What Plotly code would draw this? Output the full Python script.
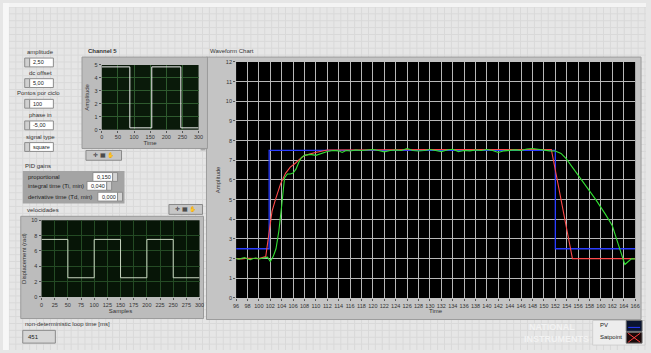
import plotly.graph_objects as go

W, H = 651, 353

# ---------------- data ----------------
pv_time = [96, 101.8, 101.8, 152.0, 152.0, 166]
pv_value = [2.5, 2.5, 7.5, 7.5, 2.5, 2.5]

sp_time = [96, 97, 98, 99, 100, 101.2, 101.8, 102.3, 102.9, 103.8, 104.7, 105.5, 106.4, 107.3,
           108.1, 109.9, 112, 120, 130, 140, 151.3, 155.0, 160, 166]
sp_value = [2.0, 1.98, 2.02, 2.0, 2.0, 2.1, 3.4, 4.4, 5.0, 5.8, 6.35, 6.65, 6.85, 7.1,
            7.25, 7.4, 7.52, 7.55, 7.55, 7.55, 7.55, 2.0, 2.0, 2.0]

fb_time = [96, 96.5, 97, 97.5, 98, 98.5, 99, 99.5, 100, 100.5, 101, 101.5, 102, 102.5, 103,
           103.5, 104, 104.5, 105, 105.5, 106, 106.5, 107, 107.5, 108, 109, 110, 111, 112,
           113, 114, 114.6, 115.3, 116, 117, 118, 119, 120, 121, 122, 123, 124, 125, 126,
           127, 128, 129, 130, 131, 132, 133, 134, 135, 136, 137, 138, 139, 140, 141, 142,
           143, 144, 145, 146, 147, 148, 149, 150, 151, 152, 153, 153.9, 155.6, 157.4,
           159.1, 160.8, 162.0, 163.1, 164.2, 164.8, 165.4, 166]
fb_value = [2.0, 1.97, 2.02, 2.05, 1.98, 1.95, 2.0, 2.03, 1.98, 2.02, 2.05, 2.07, 1.85, 2.1,
            2.5, 3.4, 4.7, 6.1, 6.3, 6.3, 6.35, 6.55, 6.9, 7.15, 7.25, 7.3, 7.25, 7.35, 7.45,
            7.5, 7.48, 7.4, 7.5, 7.47, 7.52, 7.5, 7.53, 7.55, 7.5, 7.43, 7.5, 7.52, 7.5, 7.6,
            7.5, 7.47, 7.5, 7.55, 7.5, 7.44, 7.52, 7.56, 7.44, 7.5, 7.48, 7.52, 7.5, 7.55,
            7.5, 7.4, 7.48, 7.5, 7.53, 7.5, 7.57, 7.6, 7.55, 7.5, 7.48, 7.47, 7.35, 7.08,
            6.42, 5.67, 5.0, 4.25, 3.67, 2.67, 1.7, 1.85, 2.0, 1.98]

ch5_time = [0, 87, 87, 155, 155, 245, 245, 300]
ch5_value = [4.85, 4.85, 0.15, 0.15, 4.85, 4.85, 0.15, 0.15]

vel_samples = [0, 50, 50, 100, 100, 150, 150, 200, 200, 250, 250, 300]
vel_value = [7.5, 7.5, 2.5, 2.5, 7.5, 7.5, 2.5, 2.5, 7.5, 7.5, 2.5, 2.5]

main_xticks = list(range(96, 167, 2))
main_yticks = list(range(0, 13))
ch5_xticks = list(range(0, 301, 50))
ch5_yticks = list(range(0, 6))
vel_xticks = list(range(0, 301, 25))
vel_yticks = list(range(0, 11, 2))

controls = [("amplitude", "2,50"), ("dc offset", "5,00"), ("Pontos por ciclo", "100"),
            ("phase in", "-5,00"), ("signal type", "square")]
pid_labels = ["proportional", "integral time (Ti, min)", "derivative time (Td, min)"]
pid_values = ["0,150", "0,040", "0,000"]
loop_time = "451"

# ---------------- helpers ----------------
FONT = "Liberation Sans"


def X(p):
    return p / W


def Y(p):
    return 1 - p / H


shapes = []
annotations = []


def rect(x0, y0, x1, y1, fill, line=None, lw=1):
    shapes.append(dict(type="rect", xref="paper", yref="paper", x0=X(x0), x1=X(x1),
                       y0=Y(y1), y1=Y(y0), fillcolor=fill,
                       line=dict(color=line or fill, width=lw if line else 0), layer="below"))


def text(x, y, s, size=6, color="#333333", anchor="left", angle=0):
    annotations.append(dict(x=X(x), y=Y(y), xref="paper", yref="paper", text=s, showarrow=False,
                            xanchor=anchor, yanchor="middle", textangle=angle,
                            font=dict(family=FONT, size=size, color=color)))


# page background with a fine grid
rect(0, 0, W, H, "#e6e6e6")
for gx in range(6, W, 7):
    shapes.append(dict(type="line", xref="paper", yref="paper", x0=X(gx), x1=X(gx), y0=0, y1=Y(4),
                       line=dict(color="#d9d9d9", width=1), layer="below"))
for gy in range(4, H, 7):
    shapes.append(dict(type="line", xref="paper", yref="paper", x0=X(6), x1=1, y0=Y(gy), y1=Y(gy),
                       line=dict(color="#d9d9d9", width=1), layer="below"))
rect(0, 0, W, 4, "#f4f4f4")
rect(0, 0, 6, H, "#f7f7f7")

# main chart frame
rect(206, 55, 646, 322, "#c4c4c4", "#9c9c9c")
rect(200, 55, 205, 150, "#a8a8a8")
rect(236, 60, 640, 300, "#000000")
text(208, 49, "Waveform Chart", 6)

# channel 5 frame
rect(80, 55, 207, 148, "#bcbcbc", "#9a9a9a")
rect(100, 63, 198, 129, "#0a1a0a")
text(84, 49, "<b>Channel 5</b>", 6)
rect(84, 150, 120, 160, "#c6c6c6", "#8a8a8a")
text(102, 155, "✛ ▦ ✋", 5.5, "#222222", "center")

# velocidades frame
rect(18, 217, 203, 321, "#bcbcbc", "#9a9a9a")
rect(39, 221, 199, 299, "#071507")
text(22, 211, "velocidades", 6)
rect(168, 205, 202, 215, "#c6c6c6", "#8a8a8a")
text(185, 210, "✛ ▦ ✋", 5.5, "#222222", "center")

# left controls
ctrl_y = [50, 71, 92, 114, 136]
for (lab, val), cy in zip(controls, ctrl_y):
    text(38 if lab != "Pontos por ciclo" else 36, cy, lab, 6, "#333333", "center")
    rect(22, cy + 6, 27, cy + 15, "#d0d0d0", "#8c8c8c")
    rect(27, cy + 6, 51, cy + 15, "#ffffff", "#8c8c8c")
    text(28.5, cy + 10.5, val, 5.5, "#222222")

# PID gains
text(20, 166, "PID gains", 6)
rect(20, 171, 123, 204, "#a4a4a4")
pid_y = [177, 186, 197]
pid_box = [(91, 111), (85, 105), (96, 116)]
for lab, val, yy, (bx0, bx1) in zip(pid_labels, pid_values, pid_y, pid_box):
    text(23, yy, lab, 6, "#222222")
    rect(bx0, yy - 4.5, bx1, yy + 4.5, "#ffffff", "#8c8c8c")
    rect(bx1, yy - 4.5, bx1 + 5, yy + 4.5, "#d4d4d4", "#8c8c8c")
    text(bx0 + 2, yy, val, 5.5, "#222222")

# loop time
text(20, 327, "non-deterministic loop time [ms]", 6)
rect(20, 333, 53, 346, "#d6d6d6", "#8a8a8a")
text(23, 339.5, loop_time, 6, "#222222")

# watermark
text(556, 330, "<b>NATIONAL</b>", 9, "#f2f2f2", "center")
text(560, 342, "<b>INSTRUMENTS</b>", 9, "#f2f2f2", "center")

# legend
rect(597, 323, 650, 348, "#ededed", "#cfcfcf")
text(602, 328, "PV", 6, "#222222")
text(602, 340, "Satpoint", 6, "#222222")
rect(631, 323, 647, 334, "#0a1430", "#6a6a6a")
shapes.append(dict(type="line", xref="paper", yref="paper", x0=X(633), x1=X(645), y0=Y(330), y1=Y(330),
                   line=dict(color="#2a3cff", width=1), layer="above"))
rect(631, 335, 647, 346, "#1a0808", "#6a6a6a")
shapes.append(dict(type="line", xref="paper", yref="paper", x0=X(633), x1=X(645), y0=Y(336), y1=Y(345),
                   line=dict(color="#ff4040", width=1), layer="above"))
shapes.append(dict(type="line", xref="paper", yref="paper", x0=X(633), x1=X(645), y0=Y(345), y1=Y(336),
                   line=dict(color="#ff4040", width=1), layer="above"))

# ---------------- figure ----------------
fig = go.Figure()
fig.add_trace(go.Scatter(x=pv_time, y=pv_value, mode="lines", name="PV",
                         line=dict(color="#2a3cff", width=1.3), xaxis="x", yaxis="y"))
fig.add_trace(go.Scatter(x=sp_time, y=sp_value, mode="lines", name="Satpoint",
                         line=dict(color="#ff4a4a", width=1.1), xaxis="x", yaxis="y"))
fig.add_trace(go.Scatter(x=fb_time, y=fb_value, mode="lines", name="Feedback",
                         line=dict(color="#33e033", width=1.1), xaxis="x", yaxis="y"))
fig.add_trace(go.Scatter(x=ch5_time, y=ch5_value, mode="lines", name="Channel 5",
                         line=dict(color="#f0f0f0", width=1), xaxis="x2", yaxis="y2"))
fig.add_trace(go.Scatter(x=vel_samples, y=vel_value, mode="lines", name="velocidades",
                         line=dict(color="#c8d4c0", width=1), xaxis="x3", yaxis="y3"))

tickfont = dict(family=FONT, size=5.5, color="#333333")
titlefont = dict(family=FONT, size=6, color="#333333")


def ax(domain, rng, ticks, title, grid, standoff, anchor):
    return dict(domain=domain, range=rng, tickmode="array", tickvals=ticks, ticks="outside",
                ticklen=2, tickcolor="#555555", tickfont=tickfont, showgrid=True, tickangle=0,
                gridcolor=grid, gridwidth=1, zeroline=False, showline=False, fixedrange=True,
                title=dict(text=title, font=titlefont, standoff=standoff), anchor=anchor)


fig.update_layout(
    width=W, height=H, margin=dict(l=0, r=0, t=0, b=0), showlegend=False,
    paper_bgcolor="#e6e6e6", plot_bgcolor="rgba(0,0,0,0)",
    xaxis=ax([X(236), X(640)], [96, 166], main_xticks, "Time", "#b8b8b8", 1, "y"),
    yaxis=ax([Y(300), Y(60)], [0, 12], main_yticks, "Amplitude", "#b8b8b8", 4, "x"),
    xaxis2=ax([X(100), X(198)], [0, 300], ch5_xticks, "Time", "#2e5a2e", 1, "y2"),
    yaxis2=ax([Y(129), Y(63)], [0, 5], ch5_yticks, "Amplitude", "#2e5a2e", 4, "x2"),
    xaxis3=ax([X(39), X(199)], [0, 300], vel_xticks, "Samples", "#244a24", 1, "y3"),
    yaxis3=ax([Y(299), Y(221)], [0, 10], vel_yticks, "Displacement (rad)", "#244a24", 4, "x3"),
    shapes=shapes, annotations=annotations,
)

fig.write_html("out.html", config={"displayModeBar": False},
               post_script="document.body.style.margin='0px';document.body.style.overflow='hidden';")
